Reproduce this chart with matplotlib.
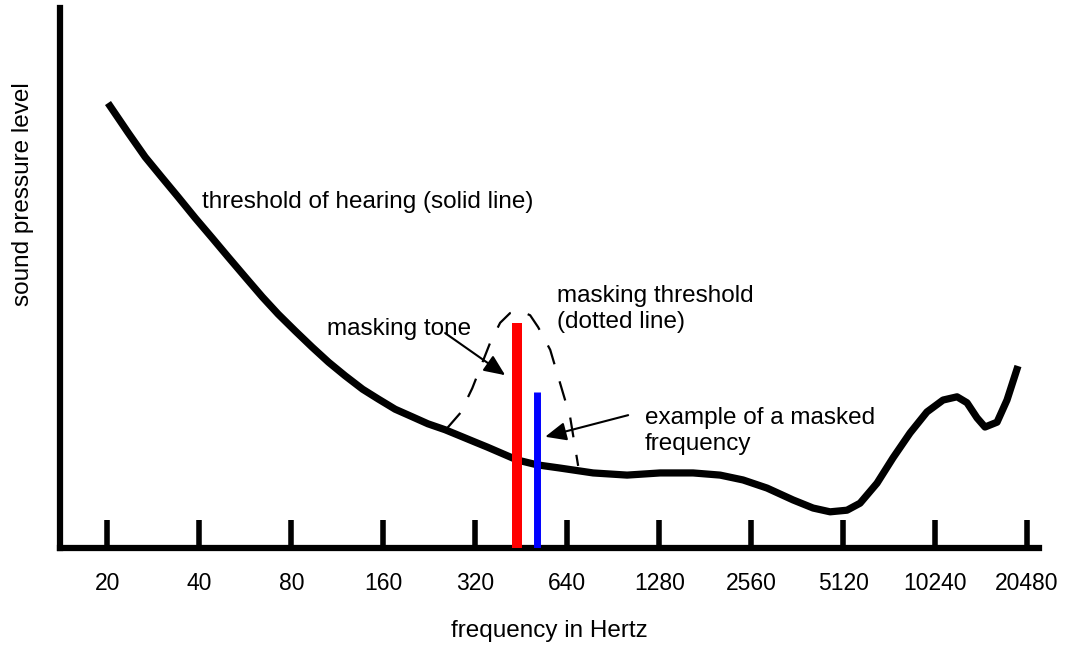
import matplotlib
matplotlib.use("Agg")
import matplotlib.pyplot as plt
from matplotlib.ticker import FixedLocator, NullLocator

plt.rcParams['font.family'] = ['Liberation Sans', 'DejaVu Sans']

# threshold of hearing (solid line)
thr_freq = [20.1, 23.4, 26.6, 30.3, 34.1, 38.8, 44.1, 49.7, 56.5, 64.3,
            72.5, 82.4, 93.6, 106, 120, 137, 154, 175, 199, 224,
            255, 290, 320, 350, 439, 510, 607, 778, 1005, 1289,
            1652, 2026, 2408, 2885, 3510, 4082, 4640, 5272, 5816, 6608,
            7456, 8476, 9628, 10870, 12080, 13020, 14040, 14910, 16330, 17600,
            19120]
thr_level = [82.4, 76.9, 72.4, 68.5, 65.0, 61.1, 57.4, 53.9, 50.2, 46.5,
             43.3, 40.2, 37.2, 34.4, 31.9, 29.4, 27.6, 25.7, 24.3, 23.0,
             21.9, 20.6, 19.6, 18.7, 16.3, 15.4, 14.8, 13.9, 13.5, 13.9,
             13.9, 13.5, 12.6, 11.1, 8.9, 7.4, 6.7, 7.0, 8.3, 12.0,
             16.7, 21.3, 25.2, 27.4, 28.0, 26.9, 24.1, 22.4, 23.3, 27.4,
             33.7]

# masking threshold (dashed line)
mask_freq = [259, 286, 313, 332, 358, 386, 416, 449, 484, 514, 563, 620, 654, 695]
mask_level = [22.2, 25.0, 29.6, 33.3, 38.0, 41.7, 43.5, 43.9, 43.1, 40.9,
              36.7, 28.7, 24.3, 15.2]

# the two tones
masker_freq = 439
masker_level = 41.7
masked_freq = 508
masked_level = 28.9

tick_freqs = [20, 40, 80, 160, 320, 640, 1280, 2560, 5120, 10240, 20480]
tick_labels = [str(f) for f in tick_freqs]

fs = 17.5

fig = plt.figure(figsize=(10.77, 6.46), dpi=100)
ax = fig.add_axes([60 / 1077, 98 / 646, 979 / 1077, 540 / 646])

ax.set_xscale('log', base=2)
ax.set_xlim(14.0, 22400)
ax.set_ylim(0, 100)

# solid threshold curve
ax.plot(thr_freq, thr_level, color='black', lw=5.2, solid_joinstyle='round',
        solid_capstyle='butt', zorder=2)

# dashed masking threshold
mline, = ax.plot(mask_freq, mask_level, color='black', lw=1.6, zorder=2)
mline.set_dashes((9, 8))

# masker and masked tones
ax.vlines(masker_freq, 0, masker_level, color='#ff0000', lw=7.2, zorder=3)
ax.vlines(masked_freq, 0, masked_level, color='#0000ff', lw=5, zorder=3)

# labels (multi-line ones are anchored on the last line's baseline)
ax.text(40.9, 63.0, 'threshold of hearing (solid line)', fontsize=fs, va='baseline')
ax.text(105, 39.4, 'masking tone', fontsize=fs, va='baseline')
ax.text(593, 40.7, 'masking threshold\n(dotted line)', fontsize=fs,
        va='baseline', linespacing=1.25)
ax.text(1151, 18.1, 'example of a masked\nfrequency', fontsize=fs,
        va='baseline', linespacing=1.25)

arrow = dict(arrowstyle='-|>,head_length=0.8,head_width=0.35', color='black',
             lw=1.5, mutation_scale=16, shrinkA=0, shrinkB=0)
ax.annotate('', xy=(401, 32.0), xytext=(255, 39.8), arrowprops=arrow)
ax.annotate('', xy=(542, 20.6), xytext=(1013, 24.6), arrowprops=arrow)

# axes styling
for side in ['top', 'right']:
    ax.spines[side].set_visible(False)
for side in ['left', 'bottom']:
    ax.spines[side].set_linewidth(4.5)

ax.xaxis.set_major_locator(FixedLocator(tick_freqs))
ax.xaxis.set_minor_locator(NullLocator())
ax.set_xticklabels(tick_labels)
ax.tick_params(axis='x', direction='in', length=20, width=4, pad=17,
               labelsize=16.5)
ax.set_yticks([])

ax.set_xlabel('frequency in Hertz', fontsize=fs, labelpad=18)
ax.set_ylabel('sound pressure level', fontsize=fs)
ax.yaxis.set_label_coords(-0.027, 0.656)

fig.savefig('out.png', dpi=100)
